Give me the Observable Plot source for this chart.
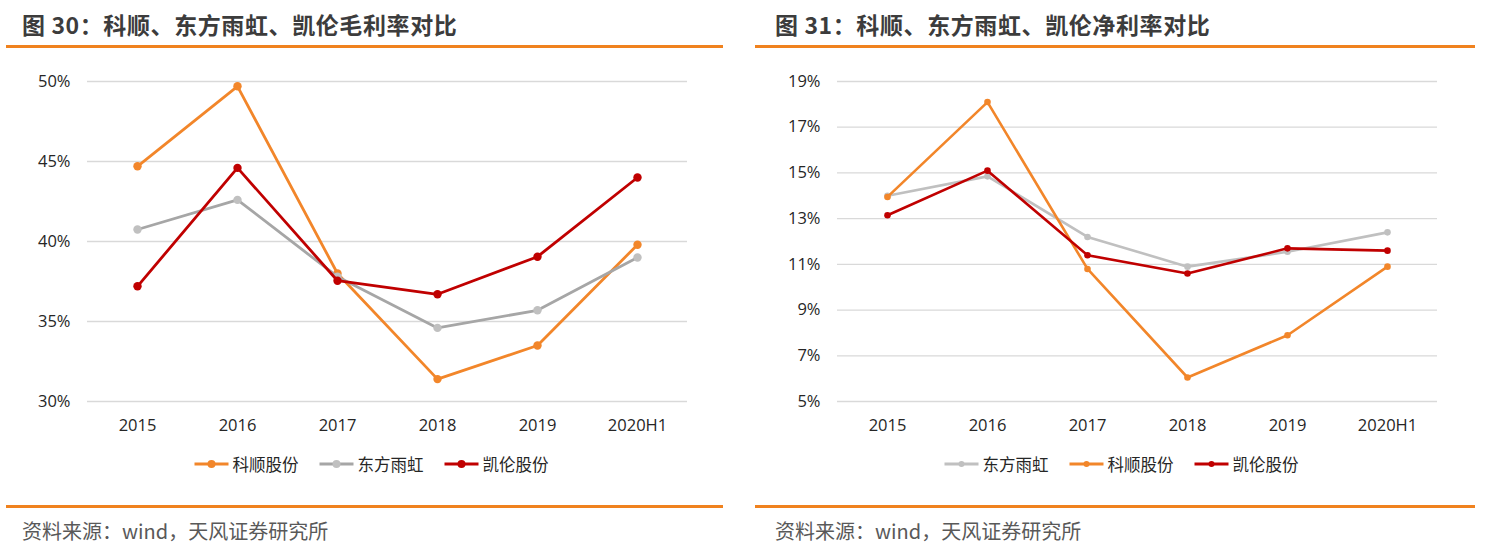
<!DOCTYPE html>
<html><head><meta charset="utf-8">
<script src="https://cdn.jsdelivr.net/npm/d3@7"></script>
<script src="https://cdn.jsdelivr.net/npm/@observablehq/plot@0.6"></script>
<style>
body{margin:0;background:#fff;width:1485px;height:548px;position:relative;overflow:hidden;font-family:"Noto Sans CJK SC","Noto Sans",sans-serif}
.title{position:absolute;top:7px;font-size:23px;font-weight:700;color:#3c3c3c;white-space:nowrap;letter-spacing:0.6px}
.rule{position:absolute;height:3px;background:#f0821e}
.chart{position:absolute;top:60px;width:740px;height:380px}
.legend{position:absolute;top:452px;display:flex;align-items:center;gap:20px;font-size:16.5px;color:#262626;transform:translateX(-50%);white-space:nowrap}
.item{display:flex;align-items:center;gap:3px}
.source{position:absolute;top:516px;font-size:20px;color:#595959;white-space:nowrap}
</style></head><body>
<div class="title" style="left:22px">图 30：科顺、东方雨虹、凯伦毛利率对比</div>
<div class="rule" style="left:6px;top:45px;width:717px"></div>
<div class="chart" id="c1" style="left:0px"></div>
<div class="legend" id="l1" style="left:371px"></div>
<div class="rule" style="left:6px;top:505px;width:717px"></div>
<div class="source" style="left:22px">资料来源：wind，天风证券研究所</div>

<div class="title" style="left:775px">图 31：科顺、东方雨虹、凯伦净利率对比</div>
<div class="rule" style="left:755px;top:45px;width:720px"></div>
<div class="chart" id="c2" style="left:750px"></div>
<div class="legend" id="l2" style="left:1121px"></div>
<div class="rule" style="left:755px;top:505px;width:720px"></div>
<div class="source" style="left:775px">资料来源：wind，天风证券研究所</div>
<script>
const years = ["2015","2016","2017","2018","2019","2020H1"];
// 毛利率 (%)
const grossKeshun   = [44.7, 49.7, 38.0, 31.4, 33.5, 39.8];
const grossDongfang = [40.75, 42.6, 37.8, 34.6, 35.7, 39.0];
const grossKailun   = [37.2, 44.6, 37.55, 36.7, 39.05, 44.0];
// 净利率 (%)
const netDongfang = [14.0, 14.85, 12.2, 10.9, 11.55, 12.4];
const netKeshun   = [13.95, 18.1, 10.8, 6.05, 7.9, 10.9];
const netKailun   = [13.15, 15.1, 11.4, 10.6, 11.7, 11.6];
const grossTicks = [30, 35, 40, 45, 50];
const netTicks = [5, 7, 9, 11, 13, 15, 17, 19];

const ORANGE = "#f2862a", RED = "#c00000";

function chart(series, ticks, r, sw) {
  const marks = [
    Plot.gridY(ticks, {stroke: "#d9d9d9", strokeOpacity: 1, strokeWidth: 1.3}),
    Plot.axisY(ticks, {tickSize: 0, tickPadding: 17, tickFormat: d => d + "%", label: null}),
    Plot.axisX({tickSize: 0, tickPadding: 18, label: null})
  ];
  for (const s of series) {
    const data = years.map((y, i) => ({year: y, value: s.values[i]}));
    marks.push(Plot.line(data, {x: "year", y: "value", stroke: s.color, strokeWidth: sw}));
    marks.push(Plot.dot(data, {x: "year", y: "value", r, fill: s.marker, stroke: "none"}));
  }
  return Plot.plot({
    width: 740, height: 380,
    marginLeft: 87, marginRight: 53, marginTop: 21, marginBottom: 39,
    x: {type: "point", domain: years, padding: 0.5},
    y: {domain: [ticks[0], ticks[ticks.length - 1]]},
    style: {fontSize: "16.5px", fontFamily: "'Open Sans', 'Noto Sans', sans-serif", color: "#262626", background: "transparent", maxWidth: "none"},
    marks
  });
}

function legend(el, series, r, sw) {
  for (const s of series) {
    const item = document.createElement("div");
    item.className = "item";
    item.innerHTML = `<svg width="36" height="12"><line x1="1" x2="35" y1="6" y2="6" stroke="${s.color}" stroke-width="${sw}"/><circle cx="18" cy="6" r="${r}" fill="${s.marker}"/></svg><span>${s.name}</span>`;
    el.appendChild(item);
  }
}

const s1 = [
  {name: "科顺股份", values: grossKeshun, color: ORANGE, marker: ORANGE},
  {name: "东方雨虹", values: grossDongfang, color: "#a6a6a6", marker: "#c0c0c0"},
  {name: "凯伦股份", values: grossKailun, color: RED, marker: RED}
];
const s2 = [
  {name: "东方雨虹", values: netDongfang, color: "#c0c0c0", marker: "#c0c0c0"},
  {name: "科顺股份", values: netKeshun, color: ORANGE, marker: ORANGE},
  {name: "凯伦股份", values: netKailun, color: RED, marker: RED}
];
document.getElementById("c1").appendChild(chart(s1, grossTicks, 4.2, 2.8));
document.getElementById("c2").appendChild(chart(s2, netTicks, 3.3, 2.6));
legend(document.getElementById("l1"), s1, 4, 3);
legend(document.getElementById("l2"), s2, 3, 3);
</script>
</body></html>
